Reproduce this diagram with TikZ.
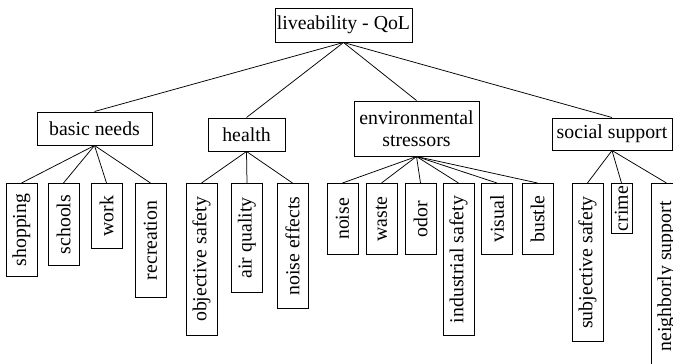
\documentclass[tikz,border=0pt]{standalone}
\usepackage{fontspec}
\setmainfont{Liberation Serif}

\begin{document}
\begin{tikzpicture}[x=1pt,y=-1pt,font=\fontsize{19.8}{22}\selectfont,
    box/.style={draw,line width=1pt,inner sep=0pt,align=center},
    leaf/.style={box,rotate=90,anchor=east,minimum height=31pt},
    link/.style={line width=.75pt}]
  \useasboundingbox (0,0) rectangle (673,364);

  % top and the four groups
  \node[box,minimum width=137pt,minimum height=34pt] (qol) at (343.5,25) {liveability - QoL};
  \node[box,minimum width=115pt,minimum height=33pt] (basic) at (94.5,128.5) {basic needs};
  \node[box,minimum width=77pt,minimum height=33pt] (health) at (246.5,134.5) {health};
  \node[box,minimum width=125pt,minimum height=55pt] (env) at (416.5,128.5) {environmental\\stressors};
  \node[box,minimum width=120pt,minimum height=32pt] (social) at (612,134) {social support};

  % leaves, hung from their top edge
  \node[leaf,minimum width=93pt] (shop) at (21.5,183) {shopping};
  \node[leaf,minimum width=82pt] (school) at (63.5,183) {schools};
  \node[leaf,minimum width=65pt] (work) at (106.5,183) {work};
  \node[leaf,minimum width=114pt] (recr) at (150.5,183) {recreation};
  \node[leaf,minimum width=152pt] (objsafe) at (201.5,183) {objective safety};
  \node[leaf,minimum width=109pt] (air) at (247,183) {air quality};
  \node[leaf,minimum width=125pt] (noiseff) at (292.5,183) {noise effects};
  \node[leaf,minimum width=71pt] (noise) at (342.5,183) {noise};
  \node[leaf,minimum width=71pt] (waste) at (381.5,183) {waste};
  \node[leaf,minimum width=71pt] (odor) at (420.5,183) {odor};
  \node[leaf,minimum width=152pt] (indsafe) at (458.5,183) {industrial safety};
  \node[leaf,minimum width=71pt] (visual) at (497,183) {visual};
  \node[leaf,minimum width=71pt] (bustle) at (537.5,183) {bustle};
  \node[leaf,minimum width=158pt] (subjsafe) at (587.5,183) {subjective safety};
  \node[leaf,minimum width=50pt,minimum height=21pt] (crime) at (621.5,183) {crime};
  \node[leaf,minimum width=186pt] (neigh) at (666.5,183) {neighborly support};

  \draw[link] (qol.south) -- (basic.north);
  \draw[link] (qol.south) -- (health.north);
  \draw[link] (qol.south) -- (env.north);
  \draw[link] (qol.south) -- (social.north);

  \draw[link] (basic.south) -- (shop.east);
  \draw[link] (basic.south) -- (school.east);
  \draw[link] (basic.south) -- (work.east);
  \draw[link] (basic.south) -- (recr.east);
  \draw[link] (health.south) -- (objsafe.east);
  \draw[link] (health.south) -- (air.east);
  \draw[link] (health.south) -- (noiseff.east);
  \draw[link] (env.south) -- (noise.east);
  \draw[link] (env.south) -- (waste.east);
  \draw[link] (env.south) -- (odor.east);
  \draw[link] (env.south) -- (indsafe.east);
  \draw[link] (env.south) -- (visual.east);
  \draw[link] (env.south) -- (bustle.east);
  \draw[link] (social.south) -- (subjsafe.east);
  \draw[link] (social.south) -- (crime.east);
  \draw[link] (social.south) -- (neigh.east);
\end{tikzpicture}
\end{document}
